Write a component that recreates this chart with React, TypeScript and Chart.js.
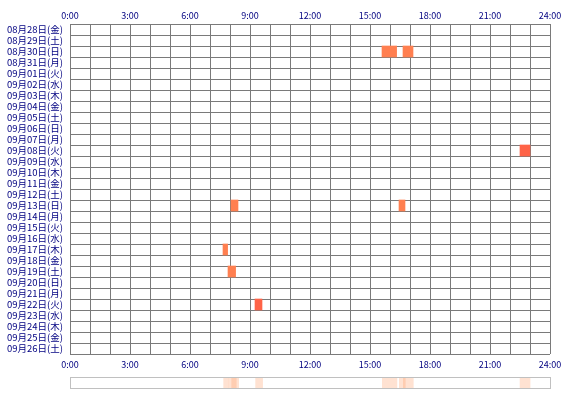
import { useEffect, useRef } from 'react';
import { Chart, registerables } from 'chart.js';

Chart.register(...registerables);

// 日付ラベル（行）
const dayLabels = [
  '08月28日(金)', '08月29日(土)', '08月30日(日)', '08月31日(月)',
  '09月01日(火)', '09月02日(水)', '09月03日(木)', '09月04日(金)',
  '09月05日(土)', '09月06日(日)', '09月07日(月)', '09月08日(火)',
  '09月09日(水)', '09月10日(木)', '09月11日(金)', '09月12日(土)',
  '09月13日(日)', '09月14日(月)', '09月15日(火)', '09月16日(水)',
  '09月17日(木)', '09月18日(金)', '09月19日(土)', '09月20日(日)',
  '09月21日(月)', '09月22日(火)', '09月23日(水)', '09月24日(木)',
  '09月25日(金)', '09月26日(土)',
];

// 時刻ラベル（3時間ごと）
const hourTickLabels = ['0:00', '3:00', '6:00', '9:00', '12:00', '15:00', '18:00', '21:00', '24:00'];

// 各セッション（日付・開始・終了［時］・レベル）
const sessionDays = [
  '08月30日(日)', '08月30日(日)', '09月08日(火)', '09月13日(日)',
  '09月13日(日)', '09月17日(木)', '09月19日(土)', '09月22日(火)',
];
const sessionStart = [15.6, 16.65, 22.5, 8.05, 16.45, 7.65, 7.9, 9.25];
const sessionEnd = [16.33, 17.15, 23.0, 8.4, 16.75, 7.88, 8.28, 9.6];
const sessionLevel = [1, 1, 2, 1, 1, 1, 1, 2];

const levelColors: Record<number, string> = { 1: '#FF7F50', 2: '#FF6347' };
const gridColor = '#7a7a7a';
const labelColor = '#000080';
const fontFamily = '"Noto Sans CJK JP", sans-serif';

export default function App() {
  const mainRef = useRef<HTMLCanvasElement | null>(null);
  const stripRef = useRef<HTMLCanvasElement | null>(null);

  useEffect(() => {
    if (!mainRef.current || !stripRef.current) return;

    const points = sessionDays.map((d, i) => ({ y: d, x: [sessionStart[i], sessionEnd[i]] }));
    const tickCallback = (value: any) =>
      value % 3 === 0 ? hourTickLabels[value / 3] : '';

    const main = new Chart(mainRef.current, {
      type: 'bar',
      data: {
        labels: dayLabels,
        datasets: [{
          data: points as any,
          backgroundColor: sessionLevel.map(l => levelColors[l]),
          borderWidth: 0,
          barPercentage: 1,
          categoryPercentage: 1,
          grouped: false,
        }],
      },
      options: {
        indexAxis: 'y',
        responsive: false,
        animation: false,
        layout: { padding: { left: 0, right: 20, top: 0, bottom: 0 } },
        plugins: { legend: { display: false }, tooltip: { enabled: false } },
        scales: {
          y: {
            type: 'category',
            z: 1,
            grid: { color: gridColor, drawTicks: false, offset: true },
            border: { color: gridColor },
            ticks: {
              color: labelColor,
              font: { family: fontFamily, size: 9.5 },
              padding: 7,
              autoSkip: false,
            },
            afterFit: (s: any) => { s.width = 70; },
          },
          x: {
            type: 'linear',
            position: 'top',
            min: 0,
            max: 24,
            z: 1,
            grid: { color: gridColor, drawTicks: false },
            border: { color: gridColor },
            ticks: {
              stepSize: 1,
              autoSkip: false,
              maxRotation: 0,
              color: labelColor,
              font: { family: fontFamily, size: 9 },
              padding: 3,
              callback: tickCallback,
            },
            afterFit: (s: any) => { s.height = 24; },
          },
          x2: {
            type: 'linear',
            axis: 'x',
            position: 'bottom',
            min: 0,
            max: 24,
            grid: { display: false, drawTicks: false },
            border: { display: false },
            ticks: {
              stepSize: 1,
              autoSkip: false,
              maxRotation: 0,
              color: labelColor,
              font: { family: fontFamily, size: 9 },
              padding: 5,
              callback: tickCallback,
            },
            afterFit: (s: any) => { s.height = 18; },
          },
        },
      },
    });

    // 下部の集計帯
    const strip = new Chart(stripRef.current, {
      type: 'bar',
      data: {
        labels: [''],
        datasets: [{
          data: sessionStart.map((s, i) => ({ y: '', x: [s, sessionEnd[i]] })) as any,
          backgroundColor: 'rgba(255, 150, 95, 0.28)',
          borderWidth: 0,
          barPercentage: 1,
          categoryPercentage: 1,
          grouped: false,
        }],
      },
      options: {
        indexAxis: 'y',
        responsive: false,
        animation: false,
        layout: { padding: 0 },
        plugins: { legend: { display: false }, tooltip: { enabled: false } },
        scales: {
          y: { type: 'category', display: false },
          x: { type: 'linear', min: 0, max: 24, display: false },
        },
      },
    });

    return () => {
      main.destroy();
      strip.destroy();
    };
  }, []);

  return (
    <div style={{ position: 'absolute', left: 0, top: 0, width: 570, height: 400, background: '#fff' }}>
      <canvas ref={mainRef} width={570} height={372} style={{ position: 'absolute', left: 0, top: 0 }} />
      <div
        style={{
          position: 'absolute', left: 70, top: 377, width: 481, height: 12,
          boxSizing: 'border-box', border: '1px solid #c0c0c0',
        }}
      >
        <canvas ref={stripRef} width={479} height={10} style={{ display: 'block' }} />
      </div>
    </div>
  );
}
